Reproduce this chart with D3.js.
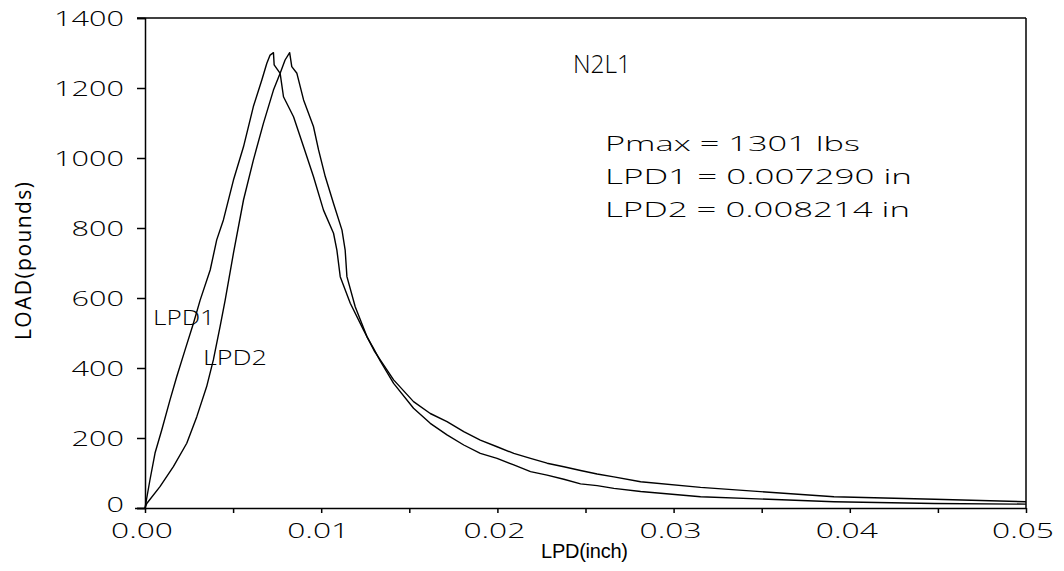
<!DOCTYPE html>
<html><head><meta charset="utf-8">
<script src="https://cdn.jsdelivr.net/npm/d3@7"></script>
<style>
body{margin:0;background:#fff;}
svg{display:block;}
</style></head>
<body><svg id="c" width="1064" height="571"></svg>
<script>
// Data (x in inches, load in pounds)
const lpd1X = [0,0.00028,0.00057,0.00095,0.00142,0.0018,0.00227,0.00275,0.00313,0.0037,0.00407,0.00445,0.00502,0.00559,0.00615,0.00663,0.00691,0.0071,0.00729,0.00733,0.00767,0.00786,0.00843,0.009,0.00956,0.01013,0.0107,0.01089,0.01108,0.01165,0.0124,0.0130,0.01335,0.01411,0.01524,0.01619,0.01714,0.01809,0.01903,0.01998,0.02093,0.02188,0.02282,0.02377,0.02472,0.02566,0.02661,0.02813,0.03153,0.0391,0.0448,0.05];
const lpd1Y = [0,80,157,223,309,375,451,528,594,680,766,823,937,1032,1147,1223,1270,1294,1301,1266,1242,1175,1118,1032,947,851,785,737,661,585,509,450,423,366,304,270,247,218,194,175,156,142,128,118,107,97,89,75,59,32,25,18];
const lpd2X = [0,0.0001,0.00085,0.00161,0.00237,0.00294,0.0035,0.00388,0.00426,0.00455,0.00502,0.00559,0.00615,0.00672,0.00729,0.00767,0.00795,0.00821,0.00833,0.00862,0.009,0.00956,0.00985,0.01023,0.0107,0.01118,0.01136,0.01146,0.01193,0.0126,0.01297,0.01335,0.01411,0.01524,0.01619,0.01714,0.01809,0.01903,0.01998,0.02093,0.02188,0.02282,0.02377,0.02472,0.02566,0.02661,0.02813,0.03153,0.0391,0.0448,0.05];
const lpd2Y = [0,13,61,118,185,261,347,423,518,594,728,880,994,1099,1194,1242,1280,1301,1261,1242,1166,1090,1023,947,870,794,737,661,575,489,456,420,356,285,242,209,180,156,142,123,104,94,82,69,64,56,47,32,18,13,11];
const yTicks = [0,200,400,600,800,1000,1200,1400];
const xTicks = [0,0.005,0.01,0.015,0.02,0.025,0.03,0.035,0.04,0.045,0.05];
const xLabels = ["0.00","0.01","0.02","0.03","0.04","0.05"];
const title = "N2L1";
const notes = ["Pmax = 1301 lbs","LPD1 = 0.007290 in","LPD2 = 0.008214 in"];

const FF = "'Open Sans', 'DejaVu Sans', sans-serif";
const FF2 = "'Liberation Sans', Arial, sans-serif";
const svg = d3.select("#c");
const x = d3.scaleLinear().domain([0,0.05]).range([145,1026]);
const y = d3.scaleLinear().domain([0,1400]).range([508,18]);

// frame
svg.append("line").attr("x1",x(0)-8).attr("x2",x(0.05)).attr("y1",y(1400)).attr("y2",y(1400)).attr("stroke","#000").attr("stroke-width",1.5);
svg.append("line").attr("x1",x(0.05)).attr("x2",x(0.05)).attr("y1",y(1400)).attr("y2",y(0)).attr("stroke","#000").attr("stroke-width",1.5);

const gy = svg.append("g").attr("transform",`translate(${x(0)},0)`)
  .call(d3.axisLeft(y).tickValues(yTicks).tickSize(8).tickPadding(13).tickFormat(d3.format("d")));
const gx = svg.append("g").attr("transform",`translate(0,${y(0)})`)
  .call(d3.axisBottom(x).tickValues(xTicks).tickSize(5).tickPadding(11)
    .tickFormat(d => { const i = Math.round(d/0.01*1000)/1000; return Number.isInteger(i) ? xLabels[i] : ""; }));
[gy,gx].forEach(g=>{
  g.select(".domain").attr("stroke","#000").attr("stroke-width",1.5);
  g.selectAll(".tick line").attr("stroke","#000").attr("stroke-width",1.5);
  g.selectAll(".tick text").attr("fill","#000").style("font-family",FF).style("font-size","20px").style("font-weight","300");
});
gy.selectAll(".tick text").attr("dy",d => d===0 ? "0.18em" : "0.36em").each(function(){
  const s = d3.select(this).text(); d3.select(this).attr("textLength", s.length*17.5).attr("lengthAdjust","spacingAndGlyphs");
});
gx.selectAll(".tick text").filter(function(){return d3.select(this).text()!=="";})
  .attr("dx","-3.5px").attr("textLength",62).attr("lengthAdjust","spacingAndGlyphs");
gx.select(".domain").attr("d",`M${x(0)-10},0.5H${x(0.05)}`);

const line = d3.line().x(d=>x(d[0])).y(d=>y(d[1]));
const d1 = lpd1X.map((v,i)=>[v,lpd1Y[i]]);
const d2 = lpd2X.map((v,i)=>[v,lpd2Y[i]]);
[d1,d2].forEach(d=>svg.append("path").datum(d).attr("d",line).attr("fill","none").attr("stroke","#000").attr("stroke-width",1.4).attr("stroke-linejoin","round"));

const txt = (s,xx,yy,size,len,ff,w,adj)=>{
  const t = svg.append("text").text(s).attr("x",xx).attr("y",yy)
    .style("font-family",ff||FF).style("font-size",size+"px").style("font-weight",w||"300").attr("fill","#000");
  if(len) t.attr("textLength",len).attr("lengthAdjust",adj||"spacingAndGlyphs");
  return t;
};

txt(title,573,73,26,58);
txt(notes[0],605,151,20,255);
txt(notes[1],605,184,20,307);
txt(notes[2],605,217,20,305);
txt("LPD1",153,325,20,62);
txt("LPD2",203,365,20,64);
txt("LPD(inch)",541,558,20,87,FF2,"normal","spacing");
svg.append("text").text("LOAD(pounds)").attr("transform","translate(31,340) rotate(-90)")
  .attr("textLength",158).attr("lengthAdjust","spacing")
  .style("font-family",FF).style("font-weight","400").style("font-size","21px").attr("fill","#000");
</script></body></html>
